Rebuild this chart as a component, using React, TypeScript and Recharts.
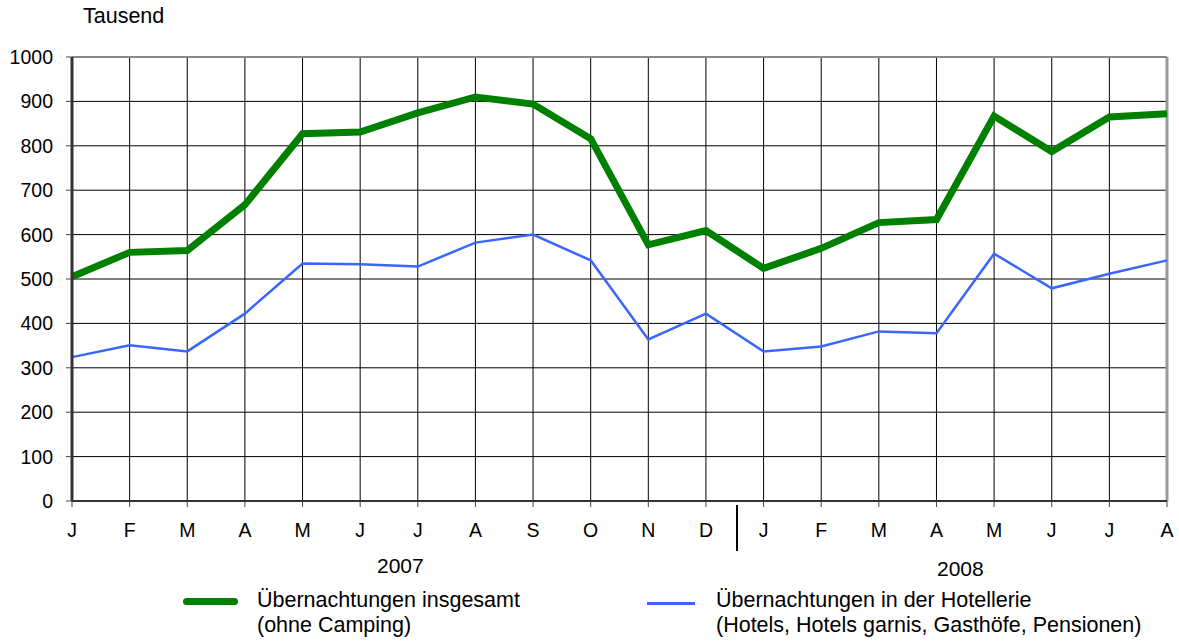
import React from "react"
import { LineChart, Line, XAxis, YAxis, CartesianGrid, ReferenceLine } from "recharts"

// Monatswerte Jan 2007 – Aug 2008, in Tausend
const months = ["J", "F", "M", "A", "M", "J", "J", "A", "S", "O", "N", "D", "J", "F", "M", "A", "M", "J", "J", "A"]
const insgesamt = [505, 560, 564, 667, 827, 831, 874, 910, 894, 816, 577, 609, 524, 569, 627, 634, 867, 787, 865, 872]
const hotellerie = [324, 351, 337, 422, 535, 533, 528, 582, 600, 542, 364, 422, 337, 348, 382, 378, 557, 479, 512, 542]
const yTicks = [0, 100, 200, 300, 400, 500, 600, 700, 800, 900, 1000]

const data = months.map((m, i) => ({ i, m, insgesamt: insgesamt[i], hotellerie: hotellerie[i] }))
const xTicks = months.map((_, i) => i)

const FONT = "'Liberation Sans', Arial, sans-serif"
const GREEN = "#008000"
const BLUE = "#3a66ff"

export default function App() {
  return (
    <div style={{ position: "absolute", left: 0, top: 0, width: 1179, height: 644, background: "#fff", fontFamily: FONT, color: "#000" }}>
      <div style={{ position: "absolute", left: 83, top: 4, fontSize: 21.5 }}>Tausend</div>
      <LineChart
        width={1179}
        height={644}
        data={data}
        margin={{ top: 57, right: 12, left: 12, bottom: 113 }}
        style={{ fontFamily: FONT }}
      >
        <CartesianGrid stroke="#000" strokeWidth={1} />
        <XAxis
          type="number"
          dataKey="i"
          domain={[0, 19]}
          ticks={xTicks}
          interval={0}
          tickFormatter={(v: number) => months[v]}
          height={30}
          tickSize={6}
          tickMargin={16}
          tick={{ fill: "#000", fontSize: 19.5 }}
          tickLine={{ stroke: "#444", strokeWidth: 1 }}
          axisLine={{ stroke: "#333", strokeWidth: 2 }}
        />
        <YAxis
          type="number"
          domain={[0, 1000]}
          ticks={yTicks}
          interval={0}
          width={60}
          tickSize={6}
          tickMargin={13}
          tick={{ fill: "#000", fontSize: 19.5 }}
          tickLine={{ stroke: "#444", strokeWidth: 1 }}
          axisLine={{ stroke: "#333", strokeWidth: 3 }}
        />
        <ReferenceLine y={1000} stroke="#888" strokeWidth={2} />
        <ReferenceLine x={19} stroke="#999" strokeWidth={3} />
        <Line
          type="linear"
          dataKey="hotellerie"
          stroke={BLUE}
          strokeWidth={2.5}
          dot={false}
          isAnimationActive={false}
        />
        <Line
          type="linear"
          dataKey="insgesamt"
          stroke={GREEN}
          strokeWidth={7}
          dot={false}
          isAnimationActive={false}
        />
      </LineChart>

      {/* Jahrestrenner und Jahreszahlen */}
      <div style={{ position: "absolute", left: 736, top: 505, width: 2, height: 46, background: "#000" }} />
      <div style={{ position: "absolute", left: 377, top: 554, fontSize: 21 }}>2007</div>
      <div style={{ position: "absolute", left: 937, top: 557, fontSize: 21 }}>2008</div>

      {/* Legende */}
      <div style={{ position: "absolute", left: 183, top: 598, width: 55, height: 7, borderRadius: 4, background: GREEN }} />
      <div style={{ position: "absolute", left: 257, top: 588, fontSize: 21.5, lineHeight: "25px" }}>
        Übernachtungen insgesamt
        <br />
        (ohne Camping)
      </div>
      <div style={{ position: "absolute", left: 647, top: 602, width: 48, height: 2.5, background: BLUE }} />
      <div style={{ position: "absolute", left: 716, top: 588, fontSize: 21.5, lineHeight: "25px" }}>
        Übernachtungen in der Hotellerie
        <br />
        (Hotels, Hotels garnis, Gasthöfe, Pensionen)
      </div>
    </div>
  )
}
